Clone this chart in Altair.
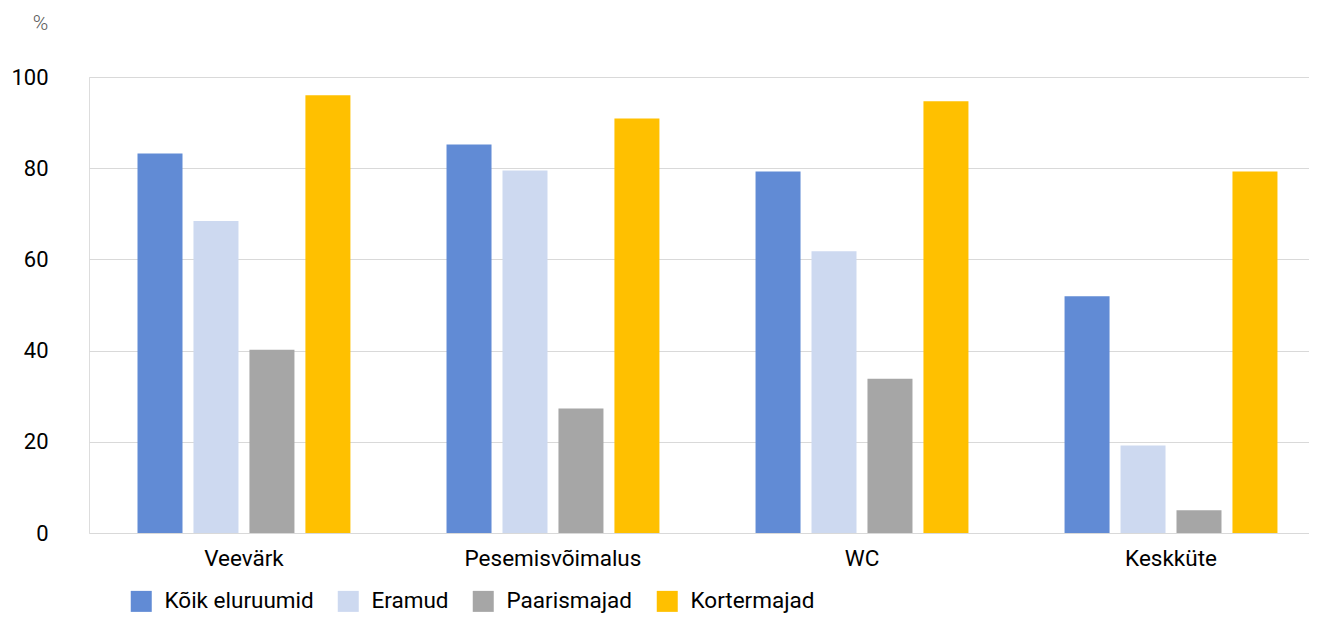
import altair as alt
import pandas as pd

categories = ["Veevärk", "Pesemisvõimalus", "WC", "Keskküte"]
series = ["Kõik eluruumid", "Eramud", "Paarismajad", "Kortermajad"]
koik = [83.2, 85.2, 79.3, 51.9]
eramud = [68.4, 79.5, 61.8, 19.2]
paaris = [40.2, 27.3, 33.8, 5.0]
korter = [96.0, 90.9, 94.7, 79.3]
colors = ["#618BD5", "#CDD9F0", "#A6A6A6", "#FFC000"]

rows = []
for s, vals in zip(series, [koik, eramud, paaris, korter]):
    for c, v in zip(categories, vals):
        rows.append({"kategooria": c, "seeria": s, "väärtus": v})
df = pd.DataFrame(rows)

chart = alt.Chart(df).mark_bar().encode(
    x=alt.X("kategooria:N", sort=categories,
            scale=alt.Scale(paddingInner=0.311, paddingOuter=0.1295, align=0.606),
            axis=alt.Axis(title=None, labelAngle=0, ticks=False, domain=False,
                          labelFontSize=22.5, labelColor="#000000", labelPadding=14,
                          labelFont="Roboto")),
    xOffset=alt.XOffset("seeria:N", sort=series,
                        scale=alt.Scale(paddingInner=0.196, paddingOuter=0)),
    y=alt.Y("väärtus:Q", scale=alt.Scale(domain=[0, 100], nice=False),
            axis=alt.Axis(title="%", values=[0, 20, 40, 60, 80, 100], ticks=False,
                          domain=False, labelFontSize=22, labelColor="#000000",
                          labelPadding=41, labelFont="Roboto",
                          gridColor="#D9D9D9", gridWidth=1,
                          titleAngle=0, titleX=-49, titleY=-54, titleAlign="center",
                          titleBaseline="middle", titleFontSize=21,
                          titleFontWeight=300, titleColor="#595959",
                          titleFont="Roboto")),
    color=alt.Color("seeria:N", sort=series,
                    scale=alt.Scale(domain=series, range=colors),
                    legend=alt.Legend(title=None, orient="none", direction="horizontal",
                                      legendX=41, legendY=513,
                                      symbolType="square",
                                      symbolSize=441, symbolStrokeWidth=0,
                                      symbolOpacity=1,
                                      labelFont="Roboto",
                                      labelFontSize=22.5, labelColor="#000000",
                                      labelOffset=12, columnPadding=23)),
).properties(
    width=1220, height=456,
    autosize=alt.AutoSizeParams(type="none"),
    padding={"left": 81, "top": 69, "right": 0, "bottom": 81},
).configure_view(stroke=None).configure(font="Roboto")

chart.save("out.html", embed_options={"renderer": "svg", "actions": False})
